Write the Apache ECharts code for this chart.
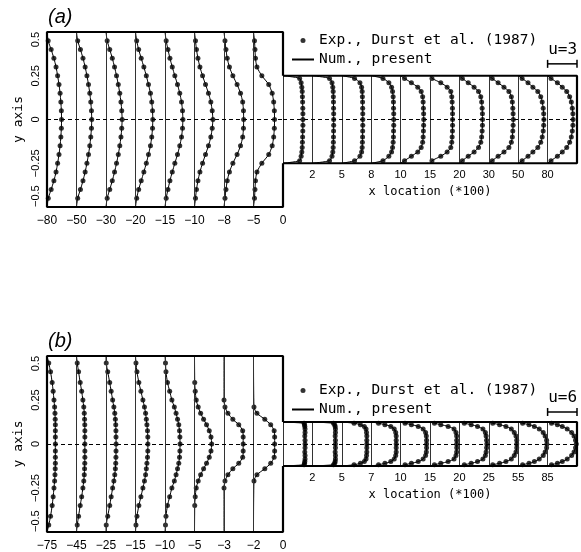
<!DOCTYPE html>
<html>
<head>
<meta charset="utf-8">
<script src="https://cdn.jsdelivr.net/npm/echarts/dist/echarts.min.js"></script>
<style>
html,body{margin:0;padding:0;background:#fff;}
#main{width:581px;height:552px;}
</style>
</head>
<body>
<div id="main"></div>
<script>
	//(a) 上游各站位置 (*100) 与 y 坐标
	let stUpA=[-80,-50,-30,-20,-15,-10,-8,-5];
	let yUpA=[0.45,0.4,0.35,0.3,0.25,0.2,0.15,0.1,0.05,0,-0.05,-0.1,-0.15,-0.2,-0.25,-0.3,-0.35,-0.4,-0.45];
	let uUpA=[
		[0.12,0.42,0.7,0.92,1.08,1.22,1.33,1.41,1.46,1.48,1.46,1.41,1.33,1.22,1.08,0.92,0.7,0.42,0.13],
		[0.12,0.4,0.66,0.88,1.06,1.22,1.35,1.45,1.52,1.55,1.52,1.45,1.35,1.22,1.06,0.88,0.66,0.4,0.12],
		[0.12,0.38,0.64,0.87,1.07,1.25,1.4,1.52,1.6,1.64,1.6,1.52,1.4,1.25,1.07,0.87,0.64,0.38,0.12],
		[0.12,0.32,0.58,0.85,1.1,1.32,1.52,1.65,1.73,1.76,1.73,1.65,1.52,1.32,1.1,0.85,0.58,0.32,0.12],
		[0.12,0.3,0.5,0.74,1.0,1.27,1.5,1.68,1.78,1.82,1.78,1.68,1.5,1.27,1.0,0.74,0.5,0.3,0.12],
		[0.1,0.2,0.35,0.55,0.82,1.12,1.42,1.66,1.8,1.87,1.8,1.66,1.42,1.12,0.82,0.55,0.35,0.2,0.1],
		[0.1,0.2,0.33,0.55,0.9,1.33,1.68,1.9,1.98,2.0,1.98,1.9,1.68,1.33,0.9,0.55,0.33,0.2,0.1],
		[0.1,0.15,0.2,0.35,0.85,1.55,1.9,2.05,2.12,2.14,2.12,2.05,1.9,1.55,0.85,0.35,0.2,0.15,0.1]
	];
	//(a) 下游
	let stDnA=[0,2,5,8,10,15,20,30,50,80];
	let yDnA=[0.235,0.21,0.185,0.16,0.13,0.1,0.065,0.033,0,-0.033,-0.065,-0.1,-0.13,-0.16,-0.185,-0.21,-0.235];
	let uDnA=[
		[1.7,1.85,1.92,1.96,1.98,2.0,2.02,2.03,2.03,2.03,2.02,2.0,1.98,1.96,1.92,1.85,1.7],
		[1.75,2.0,2.08,2.12,2.14,2.15,2.16,2.17,2.17,2.17,2.16,2.15,2.14,2.12,2.08,2.0,1.75],
		[1.3,1.85,2.02,2.08,2.1,2.12,2.13,2.14,2.14,2.14,2.13,2.12,2.1,2.08,2.02,1.85,1.3],
		[1.2,1.8,2.08,2.18,2.24,2.27,2.28,2.3,2.3,2.3,2.28,2.27,2.24,2.18,2.08,1.8,1.2],
		[0.4,1.1,1.75,2.1,2.25,2.3,2.33,2.35,2.36,2.35,2.33,2.3,2.25,2.1,1.75,1.1,0.4],
		[0.2,1.1,1.75,2.12,2.22,2.26,2.29,2.3,2.3,2.3,2.29,2.26,2.22,2.12,1.75,1.1,0.2],
		[0.3,0.9,1.5,1.95,2.18,2.27,2.32,2.35,2.36,2.35,2.32,2.27,2.18,1.95,1.5,0.9,0.3],
		[0.35,0.95,1.55,2.05,2.3,2.4,2.45,2.48,2.5,2.48,2.45,2.4,2.3,2.05,1.55,0.95,0.35],
		[0.4,1.0,1.5,2.0,2.3,2.45,2.55,2.6,2.62,2.6,2.55,2.45,2.3,2.0,1.5,1.0,0.4],
		[0.35,1.0,1.5,1.95,2.25,2.42,2.52,2.58,2.6,2.58,2.52,2.42,2.25,1.95,1.5,1.0,0.35]
	];
	//(b) 上游
	let stUpB=[-75,-45,-25,-15,-10,-5,-3,-2];
	let yUpB=[0.46,0.41,0.35,0.3,0.25,0.21,0.175,0.14,0.11,0.075,0.04,0,-0.04,-0.075,-0.11,-0.14,-0.175,-0.21,-0.25,-0.3,-0.35,-0.41,-0.46];
	let uUpB=[
		[0.35,0.72,1.05,1.25,1.42,1.55,1.62,1.67,1.7,1.7,1.7,1.7,1.7,1.7,1.7,1.67,1.62,1.55,1.42,1.25,1.05,0.72,0.35],
		[0.15,0.42,0.75,1.05,1.3,1.48,1.58,1.64,1.68,1.7,1.7,1.7,1.7,1.7,1.68,1.64,1.58,1.48,1.3,1.05,0.75,0.42,0.15],
		[0.05,0.35,0.75,1.05,1.35,1.6,1.78,1.9,1.98,2.02,2.04,2.05,2.04,2.02,1.98,1.9,1.78,1.6,1.35,1.05,0.75,0.35,0.05],
		[0.1,0.3,0.68,1.1,1.5,1.82,2.05,2.2,2.32,2.44,2.5,2.52,2.5,2.44,2.32,2.2,2.05,1.82,1.5,1.1,0.68,0.3,0.1],
		[0.1,0.2,0.5,0.95,1.4,1.9,2.25,2.55,2.8,2.95,3.03,3.06,3.03,2.95,2.8,2.55,2.25,1.9,1.4,0.95,0.5,0.2,0.1],
		[null,null,0.05,0.15,0.35,0.75,1.25,1.85,2.45,3.0,3.35,3.5,3.35,3.0,2.45,1.85,1.25,0.75,0.35,0.15,0.05,null,null],
		[null,null,null,null,0.0,0.2,0.8,1.8,3.0,3.8,3.9,3.9,3.9,3.8,3.0,1.8,0.8,0.2,0.0,null,null,null,null],
		[null,null,null,null,null,0.1,0.7,2.3,3.5,4.2,4.3,4.3,4.3,4.2,3.5,2.3,0.7,0.1,null,null,null,null,null]
	];
	//(b) 下游
	let stDnB=[0,2,5,7,10,15,20,25,55,85];
	let yDnB=[0.118,0.11,0.1,0.085,0.065,0.045,0.022,0,-0.022,-0.045,-0.065,-0.085,-0.1,-0.11,-0.118];
	let uDnB=[
		[4.3,4.4,4.45,4.5,4.5,4.45,4.5,4.5,4.5,4.45,4.5,4.5,4.45,4.4,4.3],
		[4.3,4.55,4.65,4.7,4.7,4.65,4.7,4.7,4.7,4.65,4.7,4.7,4.65,4.55,4.3],
		[2.5,3.8,4.6,4.95,5.05,5.1,5.1,5.1,5.1,5.1,5.05,4.95,4.6,3.8,2.5],
		[1.5,2.8,4.0,4.7,5.0,5.1,5.1,5.1,5.1,5.1,5.0,4.7,4.0,2.8,1.5],
		[0.9,2.2,3.6,4.6,5.1,5.25,5.3,5.3,5.3,5.25,5.1,4.6,3.6,2.2,0.9],
		[0.9,2.2,3.7,4.9,5.3,5.44,5.45,5.45,5.45,5.44,5.3,4.9,3.7,2.2,0.9],
		[1.0,2.4,3.7,4.8,5.3,5.45,5.55,5.6,5.55,5.45,5.3,4.8,3.7,2.4,1.0],
		[0.8,2.2,3.5,4.6,5.2,5.55,5.7,5.7,5.7,5.55,5.2,4.6,3.5,2.2,0.8],
		[0.9,2.2,3.3,4.3,5.1,5.5,5.8,5.85,5.8,5.5,5.1,4.3,3.3,2.2,0.9],
		[0.8,2.0,3.0,4.0,4.9,5.4,5.7,5.85,5.7,5.4,4.9,4.0,3.0,2.0,0.8]
	];
	//比例尺 u 与下游半宽
	let uBarA=3, uBarB=6;
	let halfDnA=0.25, halfDnB=0.125;

	let EXP='Exp., Durst et al. (1987)';
	let NUM='Num., present';
	let mono='DejaVu Sans Mono';
	let sans='Liberation Sans';

	function fmt(v){
		return String(v).replace('-','\u2212');
	}

	let grids=[],xAxes=[],yAxes=[],series=[],legends=[],titles=[];

	//一个管段(上游或下游)
	function addBox(g,S,st,ys,us,wall,isUp,step){
		let n=st.length;
		//外框
		let frame;
		if(isUp){
			frame=[[n*S,step],[n*S,0.5],[0,0.5],[0,-0.5],[n*S,-0.5],[n*S,-step]];
		}else{
			frame=[[0,wall],[n*S,wall],[n*S,-wall],[0,-wall]];
		}
		let ml=[];
		st.forEach(function(v,i){
			ml.push([{coord:[i*S,wall],lineStyle:{type:'solid',color:'#333',width:1}},{coord:[i*S,-wall]}]);
		})
		ml.push([{coord:[0,0],lineStyle:{type:[4,3],color:'#000',width:1}},{coord:[n*S,0]}]);
		series.push({
			type:'line',xAxisIndex:g,yAxisIndex:g,data:frame,symbol:'none',clip:false,silent:true,z:5,
			lineStyle:{color:'#000',width:2.2},
			markLine:{silent:true,symbol:['none','none'],label:{show:false},animation:false,data:ml}
		});
		//实验点与数值解
		let pts=[];
		us.forEach(function(u,i){
			let line=[[i*S,wall]];
			u.forEach(function(v,j){
				if(v===null) return;
				pts.push([i*S+v,ys[j]]);
				line.push([i*S+v,ys[j]]);
			})
			line.push([i*S,-wall]);
			series.push({
				type:'line',name:NUM,xAxisIndex:g,yAxisIndex:g,data:line,smooth:0.25,
				symbol:'none',clip:false,silent:true,color:'#000',itemStyle:{color:'#000'},
				lineStyle:{color:'#000',width:1}
			});
		})
		series.push({
			type:'scatter',name:EXP,xAxisIndex:g,yAxisIndex:g,data:pts,symbol:'circle',
			symbolSize:5,clip:false,silent:true,color:'#000',itemStyle:{color:'#000'}
		});
	}

	function addPanel(tag,top,H,S,stU,yU,uU,stD,yD,uD,half,uBar,barGap,legTop){
		let g=grids.length;
		let nU=stU.length,nD=stD.length;
		grids.push({left:47,width:236,top:top,height:H});
		grids.push({left:283,width:294,top:top+H*(0.5-half),height:H*2*half});
		//上游坐标轴
		xAxes.push({
			gridIndex:g,type:'value',min:0,max:nU*S,interval:S,
			axisLine:{show:false},axisTick:{show:false},splitLine:{show:false},
			axisLabel:{
				margin:8,fontSize:12,fontFamily:sans,color:'#000',
				formatter:function(v){
					let i=Math.round(v/S);
					return i<nU?fmt(stU[i]):fmt(stD[0]);
				}
			}
		});
		yAxes.push({
			gridIndex:g,type:'value',min:-0.5,max:0.5,interval:0.25,
			axisLine:{show:false},axisTick:{show:false},splitLine:{show:false},
			name:'y axis',nameLocation:'middle',nameRotate:90,nameGap:22,
			nameTextStyle:{fontFamily:mono,fontSize:13,color:'#000'},
			axisLabel:{
				rotate:90,margin:6,fontSize:11,fontFamily:sans,color:'#000',
				alignMinLabel:'left',alignMaxLabel:'right',
				formatter:function(v){return fmt(v);}
			}
		});
		//下游坐标轴
		xAxes.push({
			gridIndex:g+1,type:'value',min:0,max:nD*S,interval:S,
			axisLine:{show:false},axisTick:{show:false},splitLine:{show:false},
			name:'x location (*100)',nameLocation:'middle',nameGap:23,
			nameTextStyle:{fontFamily:mono,fontSize:12,color:'#000'},
			axisLabel:{
				margin:6,fontSize:11,fontFamily:sans,color:'#000',
				formatter:function(v){
					let i=Math.round(v/S);
					return (i>0&&i<nD)?fmt(stD[i]):'';
				}
			}
		});
		yAxes.push({gridIndex:g+1,type:'value',min:-half,max:half,show:false});

		addBox(g,S,stU,yU,uU,0.5,true,half);
		addBox(g+1,S,stD,yD,uD,half,false,half);

		//比例尺
		let yb=half+barGap;
		series.push({
			type:'line',xAxisIndex:g+1,yAxisIndex:g+1,clip:false,silent:true,
			symbol:'rect',symbolSize:[1.5,8],itemStyle:{color:'#000'},lineStyle:{color:'#000',width:1.5},
			data:[
				{value:[(nD-1)*S,yb],label:{show:true,position:'top',offset:[15,0],distance:2,
					formatter:'u='+uBar,fontFamily:mono,fontSize:16,color:'#000'}},
				[(nD-1)*S+uBar,yb]
			]
		});
		legends.push({
			left:286,top:legTop,orient:'vertical',itemWidth:22,itemHeight:5,itemGap:4,selectedMode:false,
			textStyle:{fontFamily:mono,fontSize:14.5,color:'#000'},
			data:[{name:EXP,icon:'circle'},{name:NUM,itemStyle:{opacity:0}}]
		});
		titles.push({
			text:'('+tag+')',left:43,top:top-30,
			textStyle:{fontFamily:sans,fontStyle:'italic',fontWeight:'normal',fontSize:20,color:'#000'}
		});
	}

	addPanel('a',32,175,3,stUpA,yUpA,uUpA,stDnA,yDnA,uDnA,halfDnA,uBarA,0.068,28);
	addPanel('b',356,176,6,stUpB,yUpB,uUpB,stDnB,yDnB,uDnB,halfDnB,uBarB,0.057,378);

	var myChart=echarts.init(document.getElementById('main'));
	myChart.setOption({
		animation:false,
		backgroundColor:'#fff',
		title:titles,
		legend:legends,
		grid:grids,
		xAxis:xAxes,
		yAxis:yAxes,
		series:series
	});
</script>
</body>
</html>
